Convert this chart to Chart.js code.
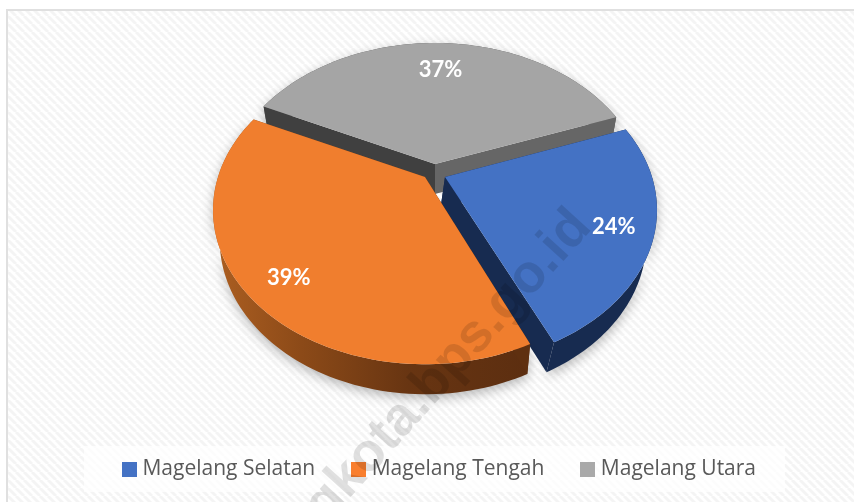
<!DOCTYPE html>
<html>
<head>
<meta charset="utf-8">
<style>html,body{margin:0;padding:0;background:#fff;overflow:hidden}canvas{display:block}</style>
<script src="https://cdn.jsdelivr.net/npm/chart.js@4/dist/chart.umd.js"></script>
</head>
<body>
<canvas id="c" width="854" height="502"></canvas>
<script>
const categories = ['Magelang Selatan', 'Magelang Tengah', 'Magelang Utara'];
const shares = [24, 39, 37];
const sliceColors = ['#4472C4', '#F07E2E', '#A5A5A5'];
const legendColors = ['#4472C4', '#F97F2F', '#A9A9A9'];
const watermark = 'magelangkota.bps.go.id';

// perspective disc look
const apexes = [[445, 177], [425, 177], [435, 164]];
const edgeTrims = [[1.2, 0], [1.0, 0], [0, 1.5]];
const labelRadii = [0.82, 0.82, 0.75];
const labelShifts = [[0, 2], [1, 4], [1, 1]];
const wallShiftX = [-4, 0, 0];
const RX = 207, RY = 147, PERSP = 0.215, DEPTH = 30, SHRINK = 0.97, MIDX = 435;
const DEG = Math.PI / 180;

function project(i, t, r) {
  const u = Math.cos(t) * r, v = Math.sin(t) * r, w = 1 - PERSP * v;
  return [apexes[i][0] + RX * u / w, apexes[i][1] + RY * v / w];
}
const lowerOf = i => p => [MIDX + (p[0] - MIDX) * SHRINK + wallShiftX[i], p[1] + DEPTH];
function poly(ctx, pts, fill) {
  ctx.beginPath();
  pts.forEach((p, k) => k ? ctx.lineTo(p[0], p[1]) : ctx.moveTo(p[0], p[1]));
  ctx.closePath();
  ctx.fillStyle = fill;
  ctx.fill();
}
function rimPts(i, arc) {
  const a0 = arc.startAngle + edgeTrims[i][0] * DEG, a1 = arc.endAngle + edgeTrims[i][1] * DEG;
  const n = 90, pts = [];
  for (let k = 0; k <= n; k++) pts.push(project(i, a0 + (a1 - a0) * k / n, 1));
  return pts;
}

const depthPie = {
  id: 'depthPie',
  beforeDraw(chart) {
    const ctx = chart.ctx, W = chart.width, H = chart.height;
    ctx.save();
    const tile = document.createElement('canvas');
    tile.width = tile.height = 8;
    const tc = tile.getContext('2d');
    tc.fillStyle = '#ffffff'; tc.fillRect(0, 0, 8, 8);
    tc.strokeStyle = '#f4f4f4'; tc.lineWidth = 2.8;
    [-8, 0, 8].forEach(o => { tc.beginPath(); tc.moveTo(o, 0); tc.lineTo(o + 8, 8); tc.stroke(); });
    ctx.fillStyle = '#ffffff'; ctx.fillRect(0, 0, W, H);
    ctx.fillStyle = ctx.createPattern(tile, 'repeat');
    ctx.fillRect(8, 11, W - 8, H - 11);
    ctx.fillStyle = '#e0e0e0';
    ctx.fillRect(6, 9, 2, H - 9);
    ctx.fillRect(6, 9, W - 6, 2);
    ctx.fillStyle = 'rgba(255,255,255,0.72)';
    ctx.fillRect(84, 446, 701, 46);
    ctx.restore();
  },
  beforeDatasetsDraw(chart) {
    const ctx = chart.ctx, arcs = chart.getDatasetMeta(0).data;
    const startEdge = ['#172B50', '#5F3010', '#404040'];
    const endEdge = ['#172B50', '#7A3F14', '#666666'];
    const order = [2, 0, 1];
    order.forEach(i => {
      const rim = rimPts(i, arcs[i]), apex = project(i, 0, 0), lower = lowerOf(i);
      ctx.save();
      ctx.shadowColor = 'rgba(0,0,0,0.28)'; ctx.shadowBlur = 12; ctx.shadowOffsetY = 4;
      let rimFill = startEdge[i];
      if (i === 1) {
        const g = ctx.createLinearGradient(225, 0, 530, 0);
        g.addColorStop(0, '#A85C20'); g.addColorStop(0.25, '#8C4A18');
        g.addColorStop(0.6, '#683512'); g.addColorStop(1, '#5C2E10');
        rimFill = g;
      }
      if (i === 2) rimFill = '#555555';
      poly(ctx, rim.concat(rim.slice().reverse().map(lower)), rimFill);
      ctx.restore();
      poly(ctx, [apex, rim[0], lower(rim[0]), lower(apex)], startEdge[i]);
      const last = rim[rim.length - 1];
      poly(ctx, [apex, last, lower(last), lower(apex)], endEdge[i]);
    });
    order.forEach(i => {
      poly(ctx, [project(i, 0, 0)].concat(rimPts(i, arcs[i])), sliceColors[i]);
    });
    const total = shares.reduce((s, v) => s + v, 0);
    ctx.save();
    ctx.font = 'bold 22px Lato, "Open Sans", sans-serif';
    ctx.fillStyle = '#ffffff';
    ctx.textAlign = 'center';
    ctx.textBaseline = 'middle';
    arcs.forEach((a, i) => {
      const p = project(i, (a.startAngle + a.endAngle) / 2, labelRadii[i]);
      ctx.fillText(Math.round(shares[i] / total * 100) + '%', p[0] + labelShifts[i][0], p[1] + labelShifts[i][1]);
    });
    ctx.restore();
    return false;
  },
  afterDraw(chart) {
    const ctx = chart.ctx;
    ctx.save();
    ctx.translate(593, 228);
    ctx.rotate(-48 * DEG);
    ctx.font = 'bold 54px "Liberation Sans", Arial, sans-serif';
    ctx.fillStyle = 'rgba(0,0,0,0.12)';
    ctx.textAlign = 'right';
    ctx.textBaseline = 'alphabetic';
    ctx.fillText(watermark, 0, 0);
    ctx.restore();
  }
};

function swatch(color) {
  const s = document.createElement('canvas');
  s.width = s.height = 15;
  const c = s.getContext('2d');
  c.fillStyle = color; c.fillRect(0, 0, 15, 15);
  return s;
}

new Chart(document.getElementById('c'), {
  type: 'pie',
  data: { labels: categories, datasets: [{ data: shares, backgroundColor: sliceColors, borderWidth: 0 }] },
  plugins: [depthPie],
  options: {
    responsive: false,
    animation: false,
    rotation: 68.5,
    layout: { padding: { left: 29, bottom: 12 } },
    plugins: {
      tooltip: { enabled: false },
      legend: {
        position: 'bottom',
        labels: {
          usePointStyle: true,
          pointStyleWidth: 5,
          padding: 41,
          color: '#595959',
          font: { family: '"Open Sans", sans-serif', size: 21 },
          generateLabels: () => categories.map((t, i) => ({
            text: t, pointStyle: swatch(legendColors[i]), fillStyle: legendColors[i],
            strokeStyle: legendColors[i], lineWidth: 0, index: i, fontColor: '#595959'
          }))
        }
      }
    }
  }
});
</script>
</body>
</html>
